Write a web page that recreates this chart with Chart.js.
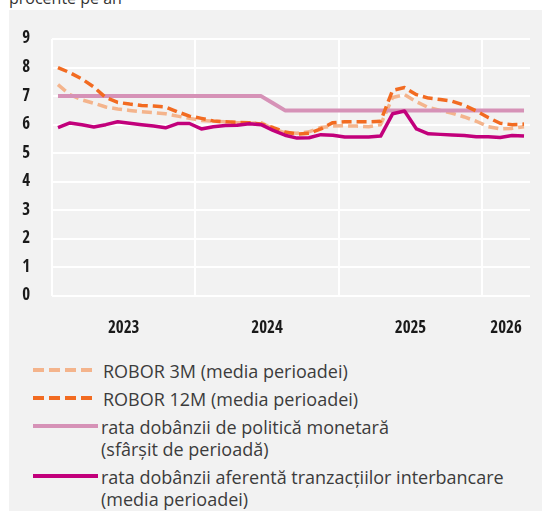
<!DOCTYPE html>
<html>
<head>
<meta charset="utf-8">
<script src="https://cdn.jsdelivr.net/npm/chart.js@4.4.1/dist/chart.umd.min.js"></script>
<style>
  html, body { margin: 0; padding: 0; background: #fff; }
  body { width: 542px; height: 511px; position: relative; overflow: hidden; font-family: 'Open Sans', 'Noto Sans', sans-serif; }
  #title { position: absolute; left: 9px; top: -12px; font-size: 16px; line-height: 20px; color: #333; }
  #panel { position: absolute; left: 9px; top: 10px; width: 533px; height: 501px; background: #f2f2f2; }
  #chart { position: absolute; left: 0; top: 15px; }
  #legend { position: absolute; left: 24px; top: 350px; }
  .item { display: flex; align-items: flex-start; margin-bottom: 6px; }
  .sw { height: 4px; margin-top: 8px; flex: none; }
  .txt { font-size: 18px; line-height: 22px; color: #3c3c3c; }
</style>
</head>
<body>
<div id="title">procente pe an</div>
<div id="panel">
  <canvas id="chart" width="533" height="320"></canvas>
  <div id="legend"></div>
</div>
<script>
// monthly observations, Jan 2023 - Apr 2026
const months = [
  '2023-01','2023-02','2023-03','2023-04','2023-05','2023-06','2023-07','2023-08','2023-09','2023-10','2023-11','2023-12',
  '2024-01','2024-02','2024-03','2024-04','2024-05','2024-06','2024-07','2024-08','2024-09','2024-10','2024-11','2024-12',
  '2025-01','2025-02','2025-03','2025-04','2025-05','2025-06','2025-07','2025-08','2025-09','2025-10','2025-11','2025-12',
  '2026-01','2026-02','2026-03','2026-04'
];

const robor3m = [
  7.40, 7.05, 6.87, 6.75, 6.62, 6.55, 6.50, 6.45, 6.42, 6.38, 6.30, 6.22,
  6.15, 6.12, 6.10, 6.07, 6.05, 6.07, 5.85, 5.72, 5.70, 5.75, 5.90, 5.95,
  5.96, 5.95, 5.93, 6.00, 6.95, 7.05, 6.80, 6.60, 6.50, 6.40, 6.27, 6.12,
  5.93, 5.85, 5.87, 5.93
];

const robor12m = [
  8.00, 7.82, 7.60, 7.32, 6.95, 6.78, 6.72, 6.67, 6.65, 6.62, 6.45, 6.30,
  6.22, 6.13, 6.10, 6.08, 6.07, 6.02, 5.90, 5.74, 5.67, 5.70, 5.85, 6.07,
  6.10, 6.10, 6.10, 6.12, 7.20, 7.30, 7.05, 6.93, 6.88, 6.82, 6.68, 6.48,
  6.25, 6.05, 6.00, 6.02
];

const policyRate = [
  7.00, 7.00, 7.00, 7.00, 7.00, 7.00, 7.00, 7.00, 7.00, 7.00, 7.00, 7.00,
  7.00, 7.00, 7.00, 7.00, 7.00, 7.00, 6.75, 6.50, 6.50, 6.50, 6.50, 6.50,
  6.50, 6.50, 6.50, 6.50, 6.50, 6.50, 6.50, 6.50, 6.50, 6.50, 6.50, 6.50,
  6.50, 6.50, 6.50, 6.50
];

const interbank = [
  5.90, 6.06, 6.00, 5.92, 6.00, 6.10, 6.05, 6.00, 5.95, 5.89, 6.04, 6.04,
  5.85, 5.93, 5.97, 5.98, 6.03, 6.00, 5.80, 5.63, 5.53, 5.54, 5.65, 5.63,
  5.57, 5.57, 5.57, 5.60, 6.38, 6.48, 5.85, 5.68, 5.66, 5.64, 5.62, 5.58,
  5.58, 5.55, 5.62, 5.60
];

const seriesNames = [
  ['ROBOR 3M (media perioadei)'],
  ['ROBOR 12M (media perioadei)'],
  ['rata dobânzii de politică monetară', '(sfârșit de perioadă)'],
  ['rata dobânzii aferentă tranzacțiilor interbancare', '(media perioadei)']
];
const seriesColors = ['#f4b48c', '#f26b21', '#d692b7', '#c2007b'];

const yMin = 0, yMax = 9;

// year labels sit in the middle of each year's months, gridlines at the first month
const years = [...new Set(months.map(m => m.slice(0, 4)))];
const yearStart = years.map(y => months.findIndex(m => m.startsWith(y)));
const yearMid = years.map(y => {
  const idx = months.map((m, i) => m.startsWith(y) ? i : -1).filter(i => i >= 0);
  return (idx[0] + idx[idx.length - 1] + 1) / 2;
});

const toPoints = arr => arr.map((v, i) => ({ x: i + 0.5, y: v }));
const condensed = "'Open Sans Condensed', 'Roboto Condensed', 'DejaVu Sans Condensed', sans-serif";
const dash = [10, 5];
const gridColor = '#ffffff';

// keep the axes from pushing the plot area around
const noPad = s => { s.paddingTop = 0; s.paddingBottom = 0; s.paddingLeft = 0; s.paddingRight = 0; };

new Chart(document.getElementById('chart'), {
  type: 'line',
  data: {
    // first dataset is drawn on top
    datasets: [
      { label: seriesNames[3].join(' '), data: toPoints(interbank), borderColor: seriesColors[3], borderWidth: 3.5 },
      { label: seriesNames[1].join(' '), data: toPoints(robor12m), borderColor: seriesColors[1], borderWidth: 3.5, borderDash: dash },
      { label: seriesNames[2].join(' '), data: toPoints(policyRate), borderColor: seriesColors[2], borderWidth: 4 },
      { label: seriesNames[0].join(' '), data: toPoints(robor3m), borderColor: seriesColors[0], borderWidth: 3.5, borderDash: dash }
    ]
  },
  options: {
    responsive: false,
    animation: false,
    elements: {
      point: { radius: 0 },
      line: { tension: 0, fill: false, borderCapStyle: 'butt', borderJoinStyle: 'round' }
    },
    layout: { padding: { top: 14, right: 12, left: 0, bottom: 0 } },
    plugins: { legend: { display: false }, tooltip: { enabled: false } },
    scales: {
      x: {
        type: 'linear', min: 0, max: months.length, position: 'bottom',
        border: { display: false },
        grid: { color: gridColor, lineWidth: 2, drawTicks: false },
        ticks: { display: false },
        afterBuildTicks: s => { s.ticks = yearStart.map(v => ({ value: v })); },
        afterFit: s => { s.height = 0; noPad(s); }
      },
      xYears: {
        type: 'linear', min: 0, max: months.length, position: 'bottom',
        border: { display: false },
        grid: { display: false, drawTicks: false },
        ticks: {
          padding: 22, maxRotation: 0, autoSkip: false, color: '#1a1a1a',
          font: { family: condensed, size: 17, weight: 'bold' },
          callback: (v, i) => years[i]
        },
        afterBuildTicks: s => { s.ticks = yearMid.map(v => ({ value: v })); },
        afterFit: s => { s.height = 49; noPad(s); }
      },
      y: {
        min: yMin, max: yMax,
        border: { display: false },
        grid: { color: gridColor, lineWidth: 2, drawTicks: false },
        ticks: { stepSize: 1, padding: 22, color: '#1a1a1a', font: { family: condensed, size: 17, weight: 'bold' } },
        afterFit: s => { s.width = 43; noPad(s); }
      }
    }
  }
});

// legend
const legend = document.getElementById('legend');
seriesNames.forEach((lines, i) => {
  const item = document.createElement('div');
  item.className = 'item';
  const sw = document.createElement('div');
  sw.className = 'sw';
  const dashed = i < 2;
  if (dashed) {
    sw.style.width = '59px';
    sw.style.marginRight = '11px';
    sw.style.background = 'repeating-linear-gradient(to right, ' + seriesColors[i] + ' 0 11px, transparent 11px 16px)';
  } else {
    sw.style.width = '65px';
    sw.style.marginRight = '3px';
    sw.style.background = seriesColors[i];
  }
  const txt = document.createElement('div');
  txt.className = 'txt';
  txt.innerHTML = lines.join('<br>');
  item.appendChild(sw);
  item.appendChild(txt);
  legend.appendChild(item);
});
</script>
</body>
</html>
